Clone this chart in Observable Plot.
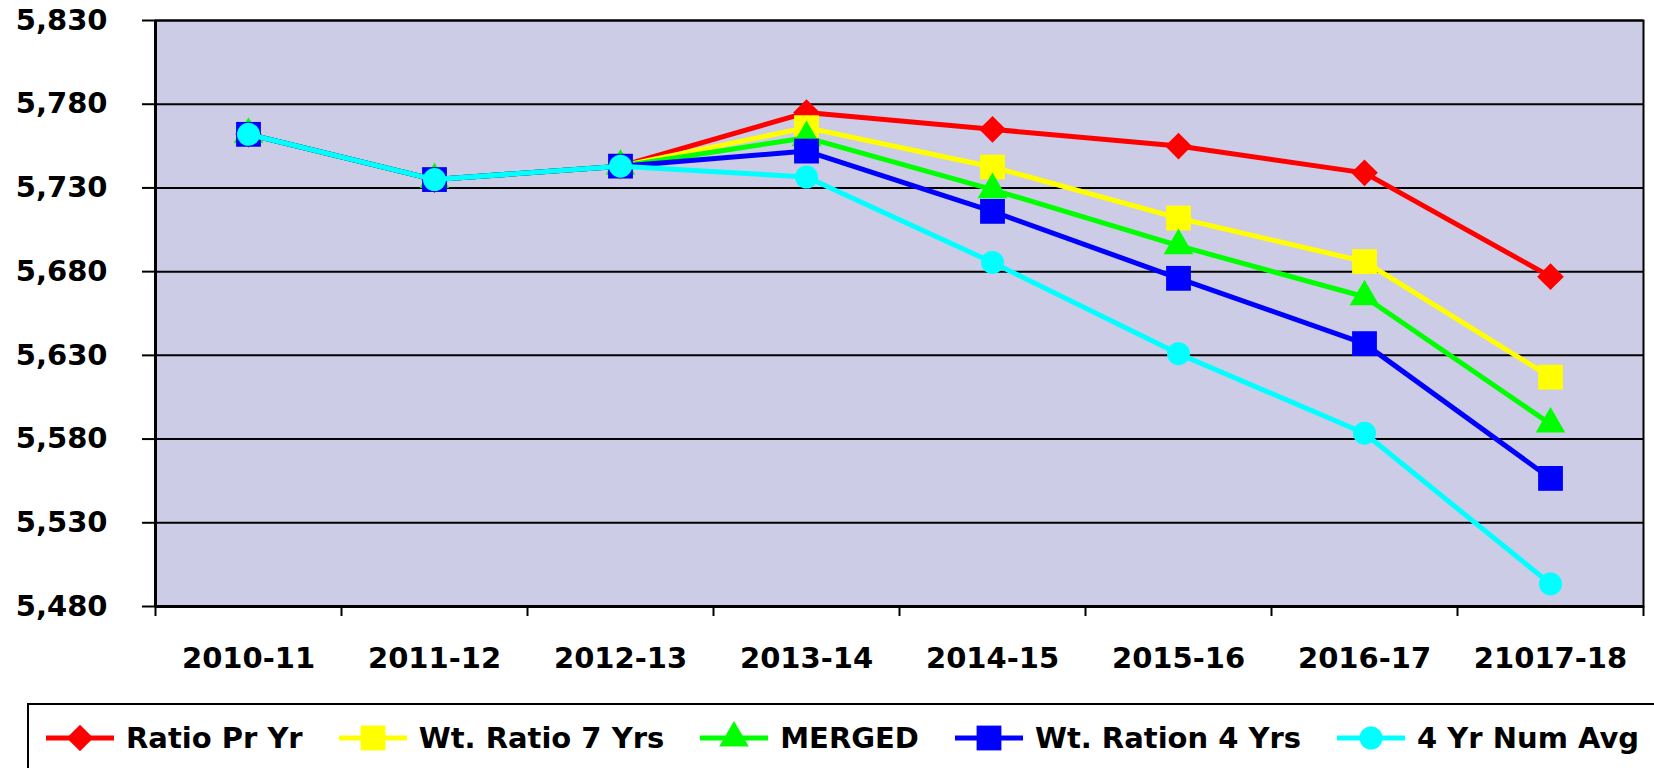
<!DOCTYPE html>
<html>
<head>
<meta charset="utf-8">
<script src="https://cdn.jsdelivr.net/npm/d3@7"></script>
<script src="https://cdn.jsdelivr.net/npm/@observablehq/plot@0.6"></script>
<style>
  html, body { margin: 0; padding: 0; background: #fff; overflow: hidden; }
  #wrap { position: relative; width: 1654px; height: 768px; }
  #legend {
    position: absolute; left: 27px; top: 703px; width: 1700px; height: 150px;
    border: 2px solid #000; box-sizing: border-box;
    display: flex; align-items: flex-start;
    padding: 16px 0 0 17px;
    font-family: "DejaVu Sans", Verdana, sans-serif; font-weight: bold; font-size: 29px; color: #000;
  }
  .item { display: flex; align-items: center; margin-right: 36px; white-space: nowrap; height: 34px; }
  .item svg { display: block; margin-right: 12px; }
</style>
</head>
<body>
<div id="wrap">
  <div id="chart"></div>
  <div id="legend"></div>
</div>
<script>
const categories = ["2010-11", "2011-12", "2012-13", "2013-14", "2014-15", "2015-16", "2016-17", "21017-18"];
const seriesNames = ["Ratio Pr Yr", "Wt. Ratio 7 Yrs", "MERGED", "Wt. Ration 4 Yrs", "4 Yr Num Avg"];
const ratioPrYr = [5762, 5735, 5743, 5775, 5765, 5755, 5739, 5677];
const wtRatio7Yrs = [5762, 5735, 5743, 5766, 5742.5, 5712, 5686, 5617];
const merged = [5762, 5735, 5743, 5760, 5729, 5695.5, 5665, 5589];
const wtRation4Yrs = [5762, 5735, 5743, 5752, 5716, 5676, 5637, 5556.5];
const numAvg4Yr = [5762, 5735, 5743, 5736.5, 5685.5, 5631, 5583.5, 5493.5];
const yTicks = [5480, 5530, 5580, 5630, 5680, 5730, 5780, 5830];

const seriesValues = [ratioPrYr, wtRatio7Yrs, merged, wtRation4Yrs, numAvg4Yr];
const colors = ["#FF0000", "#FFFF00", "#00FF00", "#0000FF", "#00FFFF"];
const symbols = ["diamond2", "square", "triangle", "square", "circle"];
const radii = [12, 14, 11, 14, 11.5];

const font = "DejaVu Sans, Verdana, sans-serif";
const idx = d3.range(categories.length);
const boundaries = d3.range(categories.length + 1).map(i => i - 0.5);
const fmt = d3.format(",");

const marks = [
  Plot.frame({fill: "#CCCCE6"}),
  Plot.gridY(yTicks, {stroke: "#000", strokeOpacity: 1, strokeWidth: 2}),
  Plot.frame({stroke: "#000", strokeWidth: 2}),
  Plot.ruleY([yTicks[0]], {stroke: "#000", strokeWidth: 3}),
  Plot.ruleX([boundaries[0]], {stroke: "#000", strokeWidth: 3}),
  Plot.axisY({ticks: yTicks, tickSize: 13, tickPadding: 35, tickFormat: d => fmt(d), fontSize: 29, fontWeight: "bold", fontFamily: font, stroke: "#000", strokeWidth: 2, fill: "#000", label: null}),
  Plot.axisX({ticks: boundaries, tickSize: 10, tickFormat: () => "", stroke: "#000", strokeWidth: 2, label: null}),
  Plot.axisX({ticks: idx, tickSize: 0, tickPadding: 41, tickFormat: i => categories[i], fontSize: 29, fontWeight: "bold", fontFamily: font, fill: "#000", label: null})
];

seriesValues.forEach((vals, s) => {
  const data = vals.map((v, i) => ({i, v}));
  marks.push(Plot.line(data, {x: "i", y: "v", stroke: colors[s], strokeWidth: 5}));
  marks.push(Plot.dot(data, {x: "i", y: "v", fill: colors[s], stroke: "none", symbol: symbols[s], r: radii[s]}));
});

const chart = Plot.plot({
  width: 1654,
  height: 690,
  marginTop: 20,
  marginLeft: 155,
  marginRight: 11,
  marginBottom: 84,
  x: {type: "linear", domain: [-0.5, categories.length - 0.5], axis: null},
  y: {domain: [5480, 5830], axis: null},
  style: {fontFamily: font, background: "#fff", overflow: "visible"},
  marks
});
document.getElementById("chart").appendChild(chart);

// Legend
const legend = d3.select("#legend");
const symMap = {diamond2: d3.symbolDiamond2, square: d3.symbolSquare, triangle: d3.symbolTriangle, circle: d3.symbolCircle};
seriesNames.forEach((name, s) => {
  const item = legend.append("div").attr("class", "item");
  const svg = item.append("svg").attr("width", 68).attr("height", 34);
  svg.append("line").attr("x1", 0).attr("x2", 68).attr("y1", 17).attr("y2", 17)
    .attr("stroke", colors[s]).attr("stroke-width", 5);
  const size = Math.PI * radii[s] * radii[s];
  svg.append("path").attr("transform", "translate(34,17)")
    .attr("d", d3.symbol(symMap[symbols[s]], size)()).attr("fill", colors[s]);
  item.append("span").text(name);
});
</script>
</body>
</html>
